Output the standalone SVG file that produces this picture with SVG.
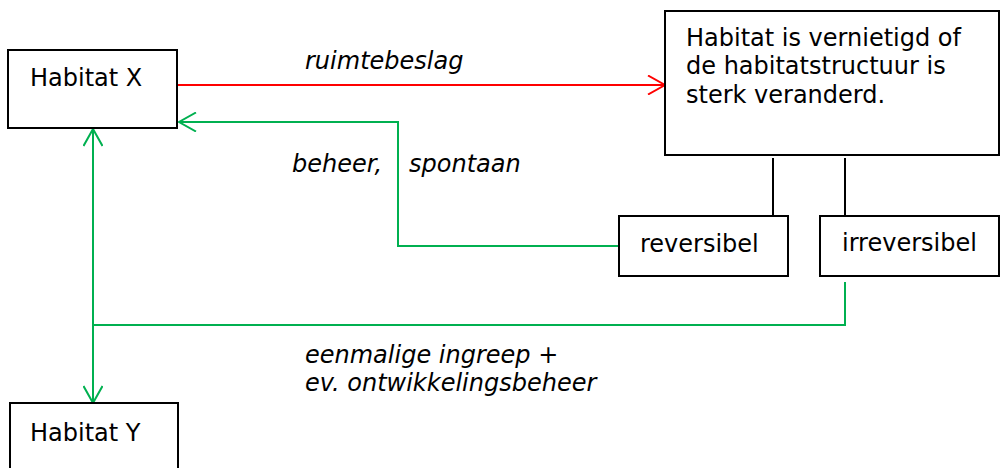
<svg xmlns="http://www.w3.org/2000/svg" width="1000" height="468" viewBox="0 0 1000 468">
<style>
.box{fill:#fff;stroke:#000;stroke-width:2}
.t{font-family:"DejaVu Sans",Verdana,sans-serif;font-size:24px;fill:#000}
.i{font-family:"DejaVu Sans",Verdana,sans-serif;font-size:24px;font-style:italic;fill:#000}
.g{fill:none;stroke:#00B050;stroke-width:2}
.r{fill:none;stroke:#FF0000;stroke-width:2}
.k{fill:none;stroke:#000;stroke-width:2}
</style>
<defs>
<marker id="ar" viewBox="0 0 20 20" refX="18" refY="10" markerWidth="20" markerHeight="20" markerUnits="userSpaceOnUse" orient="auto-start-reverse">
<path d="M1,0.5 L18,10 L1,19.5" fill="none" stroke="#FF0000" stroke-width="2"/>
</marker>
<marker id="ag" viewBox="0 0 20 20" refX="18" refY="10" markerWidth="20" markerHeight="20" markerUnits="userSpaceOnUse" orient="auto-start-reverse">
<path d="M1,0.5 L18,10 L1,19.5" fill="none" stroke="#00B050" stroke-width="2"/>
</marker>
</defs>
<rect width="1000" height="468" fill="#fff"/>
<g id="connectors">
<line class="r" x1="178" y1="85" x2="665" y2="85" marker-end="url(#ar)"/>
<polyline class="g" points="619,246 398,246 398,122 179,122" marker-end="url(#ag)"/>
<polyline class="g" points="845,282 845,325 93,325"/>
<line class="g" x1="93" y1="129" x2="93" y2="403" marker-start="url(#ag)" marker-end="url(#ag)"/>
<line class="k" x1="773" y1="158" x2="773" y2="216"/>
<line class="k" x1="845" y1="158" x2="845" y2="216"/>
</g>
<g id="labels">
<text class="i" x="305" y="69">ruimtebeslag</text>
<text class="i" x="292" y="172">beheer,</text>
<text class="i" x="409" y="172">spontaan</text>
<text class="i" x="305" y="363">eenmalige ingreep +</text>
<text class="i" x="305" y="391">ev. ontwikkelingsbeheer</text>
</g>
<g id="habitat-x">
<rect class="box" x="8" y="50" width="169" height="78"/>
<text class="t" x="30" y="86">Habitat X</text>
</g>
<g id="vernietigd">
<rect class="box" x="665" y="11" width="334" height="144"/>
<text class="t" x="686" y="46">Habitat is vernietigd of</text>
<text class="t" x="686" y="74">de habitatstructuur is</text>
<text class="t" x="686" y="103">sterk veranderd.</text>
</g>
<g id="reversibel">
<rect class="box" x="619" y="216" width="169" height="60"/>
<text class="t" x="640" y="252">reversibel</text>
</g>
<g id="irreversibel">
<rect class="box" x="820" y="216" width="179" height="60"/>
<text class="t" x="842" y="251">irreversibel</text>
</g>
<g id="habitat-y">
<rect class="box" x="10" y="403" width="168" height="80"/>
<text class="t" x="30" y="441">Habitat Y</text>
</g>
</svg>
